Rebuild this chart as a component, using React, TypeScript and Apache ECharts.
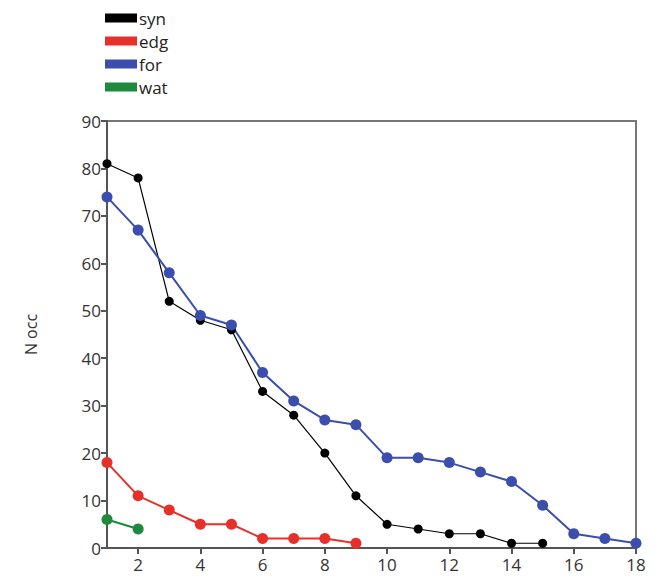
import React, { useEffect, useRef } from "react";
import * as echarts from "echarts";

const xValues = [1, 2, 3, 4, 5, 6, 7, 8, 9, 10, 11, 12, 13, 14, 15, 16, 17, 18];
const synValues = [81, 78, 52, 48, 46, 33, 28, 20, 11, 5, 4, 3, 3, 1, 1];
const edgValues = [18, 11, 8, 5, 5, 2, 2, 2, 1];
const forValues = [74, 67, 58, 49, 47, 37, 31, 27, 26, 19, 19, 18, 16, 14, 9, 3, 2, 1];
const watValues = [6, 4];
const xTickLabels = [2, 4, 6, 8, 10, 12, 14, 16, 18];

const pair = (vals: number[]) => vals.map((v, i) => [xValues[i], v]);

export default function App() {
  const ref = useRef<HTMLDivElement>(null);
  useEffect(() => {
    const chart = echarts.init(ref.current!, null, { renderer: "svg" });
    const font = "'Open Sans', 'Noto Sans', sans-serif";
    const axisColor = "#555";
    const mk = (name: string, data: number[], color: string, width: number, size: number) => ({
      name,
      type: "line",
      data: pair(data),
      symbol: "circle",
      symbolSize: size,
      showSymbol: true,
      clip: true,
      lineStyle: { color, width },
      itemStyle: { color },
      emphasis: { disabled: true },
    });
    chart.setOption({
      animation: false,
      textStyle: { fontFamily: font },
      legend: {
        orient: "vertical",
        left: 92,
        top: -4,
        itemWidth: 32,
        itemHeight: 9,
        itemGap: 5,
        icon: "rect",
        textStyle: { fontSize: 17, lineHeight: 18, color: "#222", fontFamily: font, padding: [0, 0, 0, -3] },
        data: ["syn", "edg", "for", "wat"],
      },
      grid: {
        left: 99,
        right: 21,
        top: 113,
        bottom: 31,
        show: true,
        borderColor: "#777",
        borderWidth: 2,
      },
      xAxis: {
        type: "value",
        min: 1,
        max: 18,
        axisLine: { show: true, onZero: false, lineStyle: { color: axisColor, width: 2 } },
        axisTick: { show: true, length: 6, customValues: xTickLabels, lineStyle: { color: axisColor, width: 2 } },
        axisLabel: { customValues: xTickLabels, fontSize: 17, color: "#333", margin: 8, fontFamily: font },
        splitLine: { show: false },
      },
      yAxis: {
        type: "value",
        min: 0,
        max: 90,
        interval: 10,
        name: "N occ",
        nameLocation: "middle",
        nameGap: 68,
        nameTextStyle: { fontSize: 16, color: "#333", fontFamily: font },
        axisLine: { show: true, lineStyle: { color: axisColor, width: 2 } },
        axisTick: { show: true, length: 6, lineStyle: { color: axisColor, width: 2 } },
        axisLabel: { fontSize: 17, color: "#333", margin: 6, fontFamily: font },
        splitLine: { show: false },
      },
      series: [
        mk("syn", synValues, "#000000", 1.2, 9),
        mk("edg", edgValues, "#e8302a", 2, 11),
        mk("for", forValues, "#3b4eae", 2, 11),
        mk("wat", watValues, "#1f8a3d", 2, 11),
      ],
    });
    return () => chart.dispose();
  }, []);
  return <div ref={ref} style={{ width: 649, height: 571 }} />;
}
